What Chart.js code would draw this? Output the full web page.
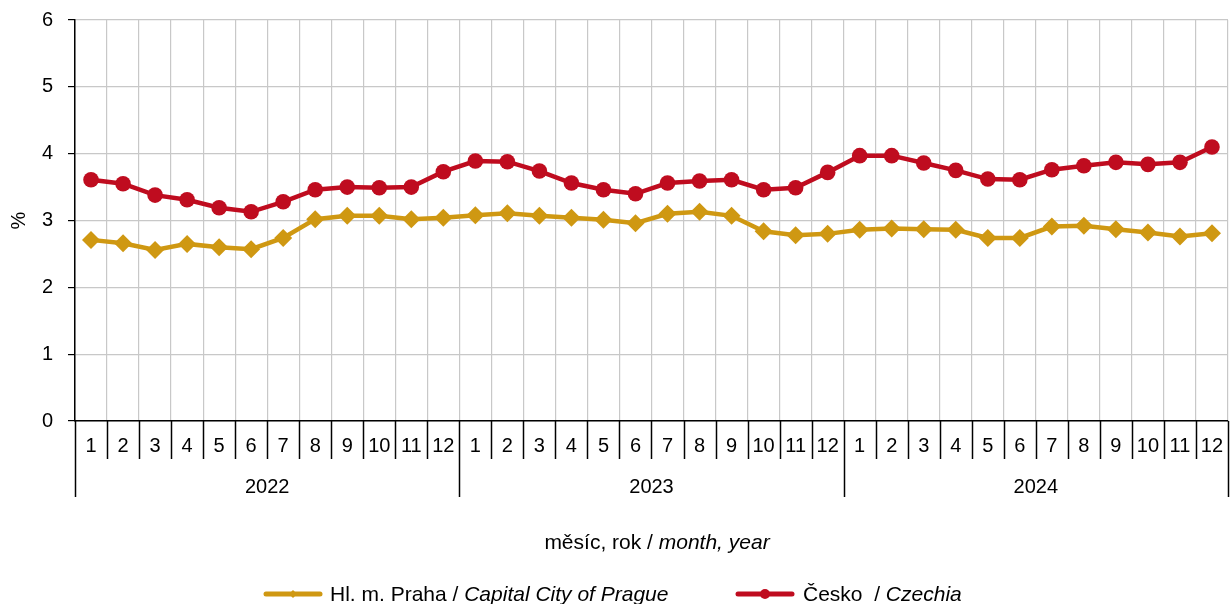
<!DOCTYPE html>
<html>
<head>
<meta charset="utf-8">
<script src="https://cdn.jsdelivr.net/npm/chart.js@4.4.1/dist/chart.umd.min.js"></script>
<style>
html,body{margin:0;padding:0;background:#fff;}
#wrap{width:1230px;height:604px;position:relative;}
</style>
</head>
<body>
<div id="wrap"><canvas id="c" width="1230" height="604"></canvas></div>
<script>
const years = ['2022', '2023', '2024'];
const months = ['1','2','3','4','5','6','7','8','9','10','11','12'];
const praha = [2.71,2.66,2.56,2.65,2.60,2.57,2.74,3.02,3.07,3.07,3.02,3.04,
               3.08,3.11,3.07,3.04,3.01,2.96,3.10,3.13,3.07,2.84,2.78,2.80,
               2.86,2.88,2.87,2.86,2.74,2.74,2.91,2.92,2.87,2.82,2.76,2.81];
const cesko = [3.61,3.55,3.38,3.31,3.19,3.13,3.28,3.46,3.50,3.49,3.50,3.73,
               3.89,3.88,3.74,3.56,3.46,3.40,3.56,3.59,3.61,3.46,3.49,3.72,
               3.97,3.97,3.86,3.75,3.62,3.61,3.76,3.82,3.87,3.84,3.87,4.10];
const yTicks = [0,1,2,3,4,5,6];
const seriesNames = [['Hl. m. Praha / ', 'Capital City of Prague'], ['Česko  / ', 'Czechia']];
const axisTitle = ['měsíc, rok / ', 'month, year'];

const labels = [];
years.forEach(y => months.forEach(m => labels.push(m)));

const GOLD = '#CF9812';
const RED = '#BF0C1F';
const FONT = '"Liberation Sans", Arial, sans-serif';

const extras = {
  id: 'extras',
  afterDraw(chart) {
    const ctx = chart.ctx;
    const x = chart.scales.x;
    const bottom = chart.chartArea.bottom;
    const half = (x.getPixelForValue(1) - x.getPixelForValue(0)) / 2;
    ctx.save();
    ctx.strokeStyle = '#000';
    ctx.lineWidth = 1.5;
    for (let i = 0; i <= labels.length; i++) {
      const bx = Math.round((i < labels.length ? x.getPixelForValue(i) - half : x.getPixelForValue(i - 1) + half)) + 0.5;
      const len = (i % 12 === 0) ? 76 : 38;
      ctx.beginPath();
      ctx.moveTo(bx, bottom);
      ctx.lineTo(bx, bottom + len);
      ctx.stroke();
    }
    ctx.fillStyle = '#000';
    ctx.textAlign = 'center';
    ctx.textBaseline = 'alphabetic';
    ctx.font = '20px ' + FONT;
    years.forEach((yr, k) => {
      const cx = (x.getPixelForValue(k * 12) + x.getPixelForValue(k * 12 + 11)) / 2;
      ctx.fillText(yr, cx, 493);
    });
    function mixed(parts, cx, cy, size, align) {
      ctx.font = size + 'px ' + FONT;
      const w1 = ctx.measureText(parts[0]).width;
      ctx.font = 'italic ' + size + 'px ' + FONT;
      const w2 = ctx.measureText(parts[1]).width;
      const start = align === 'center' ? cx - (w1 + w2) / 2 : cx;
      ctx.textAlign = 'left';
      ctx.font = size + 'px ' + FONT;
      ctx.fillText(parts[0], start, cy);
      ctx.font = 'italic ' + size + 'px ' + FONT;
      ctx.fillText(parts[1], start + w1, cy);
    }
    mixed(axisTitle, 657, 549, 21, 'center');
    const items = [
      {x0: 266, x1: 320, tx: 330, color: GOLD, style: 'rectRot', r: 4, names: seriesNames[0]},
      {x0: 738, x1: 792, tx: 803, color: RED, style: 'circle', r: 5, names: seriesNames[1]}
    ];
    const ly = 594;
    items.forEach(it => {
      ctx.strokeStyle = it.color;
      ctx.lineWidth = 5;
      ctx.lineCap = 'round';
      ctx.beginPath();
      ctx.moveTo(it.x0, ly);
      ctx.lineTo(it.x1, ly);
      ctx.stroke();
      ctx.fillStyle = it.color;
      Chart.helpers.drawPoint(ctx, {pointStyle: it.style, radius: it.r, borderWidth: 0}, (it.x0 + it.x1) / 2, ly);
      ctx.fillStyle = '#000';
      mixed(it.names, it.tx, 601, 21, 'left');
    });
    ctx.restore();
  }
};

new Chart(document.getElementById('c'), {
  type: 'line',
  data: {
    labels: labels,
    datasets: [
      {label: seriesNames[0].join(''), data: praha, borderColor: GOLD, backgroundColor: GOLD,
       borderWidth: 4.5, pointStyle: 'rectRot', pointRadius: 9, pointBorderWidth: 0, tension: 0},
      {label: seriesNames[1].join(''), data: cesko, borderColor: RED, backgroundColor: RED,
       borderWidth: 4.5, pointStyle: 'circle', pointRadius: 7.8, pointBorderWidth: 0, tension: 0}
    ]
  },
  options: {
    responsive: false,
    animation: false,
    events: [],
    layout: {autoPadding: false, padding: {top: 20, right: 2, bottom: 0, left: 0}},
    plugins: {legend: {display: false}, tooltip: {enabled: false}},
    scales: {
      x: {
        offset: true,
        grid: {offset: true, color: '#c8c8c8', lineWidth: 1.2, drawTicks: true, tickLength: 13, tickColor: 'rgba(0,0,0,0)'},
        border: {color: '#000', width: 1.5},
        ticks: {color: '#000', font: {family: FONT, size: 20}, padding: 0, maxRotation: 0, autoSkip: false},
        afterFit(s) { s.height = 183; s.paddingLeft = 0; s.paddingRight = 0; }
      },
      y: {
        min: 0, max: 6,
        afterBuildTicks(s) { s.ticks = yTicks.map(v => ({value: v})); },
        grid: {color: '#c8c8c8', lineWidth: 1.2, tickLength: 7, tickColor: '#000'},
        border: {color: '#000', width: 1.5},
        ticks: {color: '#000', font: {family: FONT, size: 20}, padding: 15},
        title: {display: true, text: '%', color: '#000', font: {family: FONT, size: 20}, padding: {top: 7, bottom: 0}},
        afterFit(s) { s.width = 75; s.paddingTop = 0; s.paddingBottom = 0; }
      }
    }
  },
  plugins: [extras]
});
</script>
</body>
</html>
